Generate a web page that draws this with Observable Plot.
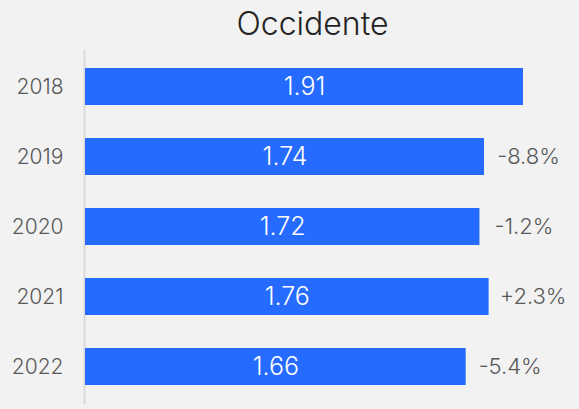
<!DOCTYPE html>
<html>
<head>
<meta charset="utf-8">
<script src="https://cdn.jsdelivr.net/npm/d3@7"></script>
<script src="https://cdn.jsdelivr.net/npm/@observablehq/plot@0.6"></script>
<style>
  html, body { margin: 0; padding: 0; background: #f2f2f2; }
  #chart { width: 579px; height: 409px; }
  svg { font-family: "Inter Light", Inter, "Noto Sans", sans-serif; font-weight: 300; }
</style>
</head>
<body>
<div id="chart"></div>
<script>
const title = "Occidente";
const years = ["2018", "2019", "2020", "2021", "2022"];
const values = [1.91, 1.74, 1.72, 1.76, 1.66];
const changes = ["", "-8.8%", "-1.2%", "+2.3%", "-5.4%"];

const data = years.map((y, i) => ({year: y, value: values[i], change: changes[i]}));

const chart = Plot.plot({
  width: 579,
  height: 409,
  marginTop: 50,
  marginBottom: 5,
  marginLeft: 85,
  marginRight: 56,
  style: {background: "#f2f2f2", overflow: "visible"},
  x: {domain: [0, 1.91], axis: null},
  y: {type: "band", domain: years, paddingInner: 0.47, paddingOuter: 0.235, label: null,
      tickSize: 0, tickPadding: 22},
  marks: [
    Plot.axisY({tickSize: 0, tickPadding: 22, fontSize: 21, color: "#595959", label: null}),
    Plot.ruleX([0], {stroke: "#d9d9d9", strokeWidth: 2, dx: -1}),
    Plot.barX(data, {y: "year", x: "value", fill: "#256bff"}),
    Plot.text(data, {y: "year", x: d => d.value / 2, text: d => d3.format(".2f")(d.value),
      fill: "white", fontSize: 25, fontWeight: 300}),
    Plot.text(data, {y: "year", x: "value", text: "change", dx: 44, textAnchor: "middle",
      fill: "#595959", fontSize: 22, fontWeight: 300}),
    Plot.text([title], {frameAnchor: "top", text: d => d, dy: -38, dx: 8,
      fill: "#252525", fontSize: 32, fontWeight: 300})
  ]
});
document.getElementById("chart").appendChild(chart);
</script>
</body>
</html>
